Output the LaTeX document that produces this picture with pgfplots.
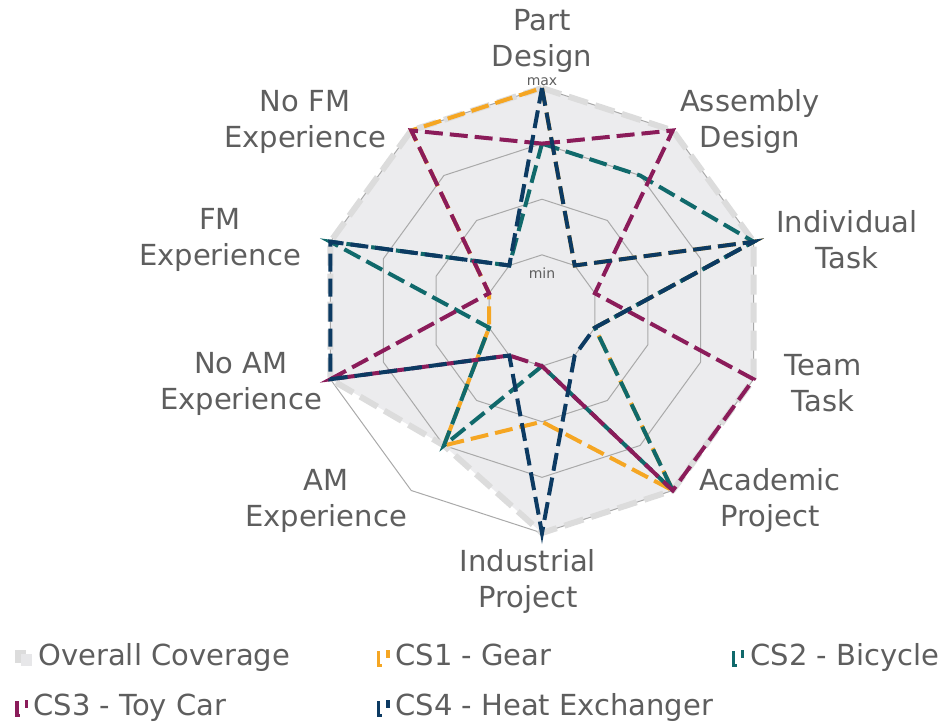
\documentclass[border=0pt]{standalone}
\usepackage{fontspec}
\setmainfont{DejaVu Sans}
\usepackage{pgfplots}
\pgfplotsset{compat=1.18}

\definecolor{cGear}{HTML}{F5A623}
\definecolor{cBike}{HTML}{10696B}
\definecolor{cCar}{HTML}{8B1C5A}
\definecolor{cHeat}{HTML}{0C3A62}
\definecolor{cFill}{HTML}{ECECEE}
\definecolor{cEdge}{HTML}{DCDCDC}
\definecolor{cRing}{HTML}{A9A9A9}
\definecolor{cText}{HTML}{5E5E5E}

\tikzset{
  lab/.style={align=center, text=cText, font=\fontsize{14.5}{18}\selectfont},
  leg/.style={lab, anchor=west, inner sep=0pt, text height=11pt, text depth=3pt},
  icon/.style={line width=1.6pt},
}
\pgfplotsset{
  ring/.style={cRing, line width=0.5pt, data cs=polar, forget plot},
  cs/.style={line width=2pt, dash pattern=on 9pt off 3.5pt, data cs=polar},
}

\begin{document}
\begin{tikzpicture}
\begin{axis}[
    x=27.8125pt, y=27.8125pt,
    xmin=-9.744, xmax=7.371,
    ymin=-7.434, ymax=5.582,
    hide axis, clip=false,
]
% overall coverage (max of all case studies)
\addplot[fill=cFill, draw=none, data cs=polar] coordinates {
  (90,4) (54,4) (18,4) (-18,4) (-54,4) (-90,4) (-126,3) (-162,4) (162,4) (126,4) (90,4)};
% decagon rings
\addplot[ring] coordinates {(90,1) (54,1) (18,1) (-18,1) (-54,1) (-90,1) (-126,1) (-162,1) (162,1) (126,1) (90,1)};
\addplot[ring] coordinates {(90,2) (54,2) (18,2) (-18,2) (-54,2) (-90,2) (-126,2) (-162,2) (162,2) (126,2) (90,2)};
\addplot[ring] coordinates {(90,3) (54,3) (18,3) (-18,3) (-54,3) (-90,3) (-126,3) (-162,3) (162,3) (126,3) (90,3)};
\addplot[ring] coordinates {(90,4) (54,4) (18,4) (-18,4) (-54,4) (-90,4) (-126,4) (-162,4) (162,4) (126,4) (90,4)};
\addplot[cEdge, line width=3pt, dash pattern=on 10pt off 4pt, data cs=polar] coordinates {
  (90,4) (54,4) (18,4) (-18,4) (-54,4) (-90,4) (-126,3) (-162,4) (162,4) (126,4) (90,4)};

% CS1 - Gear
\addplot[cs, cGear] coordinates {
  (90,4) (54,1) (18,4) (-18,1) (-54,4) (-90,2) (-126,3) (-162,1) (162,1) (126,4) (90,4)};
% CS2 - Bicycle
\addplot[cs, cBike] coordinates {
  (90,3) (54,3) (18,4) (-18,1) (-54,4) (-90,1) (-126,3) (-162,1) (162,4) (126,1) (90,3)};
% CS3 - Toy Car
\addplot[cs, cCar] coordinates {
  (90,3) (54,4) (18,1) (-18,4) (-54,4) (-90,1) (-126,1) (-162,4) (162,1) (126,4) (90,3)};
% CS4 - Heat Exchanger
\addplot[cs, cHeat] coordinates {
  (90,4) (54,1) (18,4) (-18,1) (-54,1) (-90,4) (-126,1) (-162,4) (162,4) (126,1) (90,4)};

% category labels
\node[lab] at (axis cs:0,4.84) {Part\\Design};
\node[lab] at (axis cs:3.74,3.39) {Assembly\\Design};
\node[lab] at (axis cs:5.483,1.276) {Individual\\Task};
\node[lab] at (axis cs:5.05,-1.312) {Team\\Task};
\node[lab] at (axis cs:4.10,-3.416) {Academic\\Project};
\node[lab] at (axis cs:-0.252,-4.872) {Industrial\\Project};
\node[lab] at (axis cs:-3.883,-3.416) {AM\\Experience};
\node[lab] at (axis cs:-5.411,-1.312) {No AM\\Experience};
\node[lab] at (axis cs:-5.789,1.276) {FM\\Experience};
\node[lab] at (axis cs:-4.26,3.39) {No FM\\Experience};
\node[text=cText, font=\fontsize{7}{8}\selectfont, inner sep=0pt] at (axis cs:0,4.12) {max};
\node[text=cText, font=\fontsize{7}{8}\selectfont] at (axis cs:0,0.674) {min};

% legend
\fill[cEdge] (axis cs:-9.47,-6.10) rectangle (axis cs:-9.27,-6.34);
\fill[cFill!70!cEdge] (axis cs:-9.36,-6.18) rectangle (axis cs:-9.16,-6.40);
\node[leg] at (axis cs:-9.06,-6.247) {Overall Coverage};

\draw[icon, cGear] (axis cs:-2.94,-6.127) -- (axis cs:-2.94,-6.387) -- (axis cs:-2.88,-6.387);
\draw[icon, cGear] (axis cs:-2.77,-6.107) -- (axis cs:-2.77,-6.247);
\node[leg] at (axis cs:-2.643,-6.247) {CS1 - Gear};

\draw[icon, cBike] (axis cs:3.44,-6.127) -- (axis cs:3.44,-6.387) -- (axis cs:3.50,-6.387);
\draw[icon, cBike] (axis cs:3.61,-6.107) -- (axis cs:3.61,-6.247);
\node[leg] at (axis cs:3.739,-6.247) {CS2 - Bicycle};

\draw[icon, cCar] (axis cs:-9.44,-7.026) -- (axis cs:-9.44,-7.286) -- (axis cs:-9.38,-7.286);
\draw[icon, cCar] (axis cs:-9.27,-7.006) -- (axis cs:-9.27,-7.146);
\node[leg] at (axis cs:-9.151,-7.146) {CS3 - Toy Car};

\draw[icon, cHeat] (axis cs:-2.94,-7.026) -- (axis cs:-2.94,-7.286) -- (axis cs:-2.88,-7.286);
\draw[icon, cHeat] (axis cs:-2.77,-7.006) -- (axis cs:-2.77,-7.146);
\node[leg] at (axis cs:-2.643,-7.146) {CS4 - Heat Exchanger};

\path (rel axis cs:0,0) rectangle (rel axis cs:1,1);
\end{axis}
\end{tikzpicture}
\end{document}
